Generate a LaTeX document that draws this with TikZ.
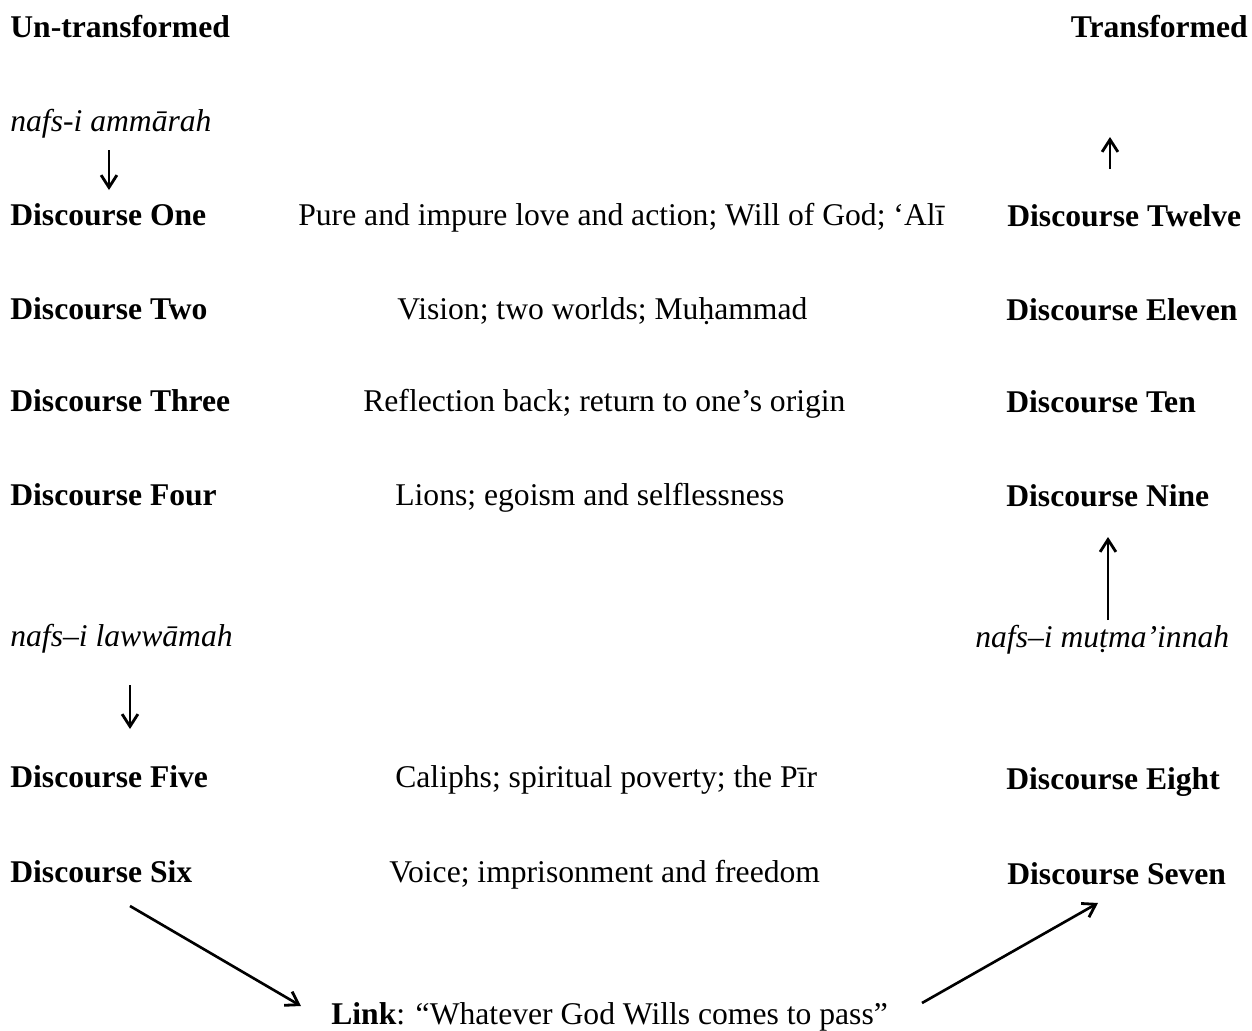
\documentclass[tikz,border=0pt]{standalone}
\usepackage{fontspec}
\setmainfont{Liberation Serif}
\usetikzlibrary{
  arrows.meta,
  positioning
}

\begin{document}
\begin{tikzpicture}[
  x=0.02cm, y=-0.02cm,
  every node/.style={font=\fontsize{18}{22}\selectfont, inner sep=0pt, anchor=base west},
  disc/.style={font=\fontsize{18}{22}\selectfont\bfseries},
  nafs/.style={font=\fontsize{18}{22}\selectfont\itshape},
  arr/.style={-{Straight Barb[length=7pt,width=9pt,line width=1.6pt]}, line width=1.5pt}
]
  \useasboundingbox (0,0) rectangle (1252,1031);

  % headings
  \node[disc] (untr) at (10,37) {Un-transformed};
  \node[disc, anchor=base east] (trans) at (1248,37) {Transformed};

  % stations of the soul
  \node[nafs] (ammarah) at (10,131) {nafs-i ammārah};
  \node[nafs] (lawwamah) at (10,646) {nafs–i lawwāmah};
  \node[nafs] (mutmainnah) at (975,647) {nafs–i muṭma’innah};

  % left column
  \node[disc] (d1) at (10,225) {Discourse One};
  \node[disc] (d2) at (10,319) {Discourse Two};
  \node[disc] (d3) at (10,411) {Discourse Three};
  \node[disc] (d4) at (10,505) {Discourse Four};
  \node[disc] (d5) at (10,787) {Discourse Five};
  \node[disc] (d6) at (10,882) {Discourse Six};

  % themes
  \node (t1) at (298,225) {Pure and impure love and action; Will of God; ‘Alī};
  \node (t2) at (397,319) {Vision; two worlds; Muḥammad};
  \node (t3) at (363,411) {Reflection back; return to one’s origin};
  \node (t4) at (395,505) {Lions; egoism and selflessness};
  \node (t5) at (395,787) {Caliphs; spiritual poverty; the Pīr};
  \node (t6) at (389,882) {Voice; imprisonment and freedom};

  % right column
  \node[disc] (d12) at (1007,226) {Discourse Twelve};
  \node[disc] (d11) at (1006,320) {Discourse Eleven};
  \node[disc] (d10) at (1006,412) {Discourse Ten};
  \node[disc] (d9) at (1006,506) {Discourse Nine};
  \node[disc] (d8) at (1006,789) {Discourse Eight};
  \node[disc] (d7) at (1007,884) {Discourse Seven};

  % link
  \node (link) at (331,1024) {\textbf{Link}: “Whatever God Wills comes to pass”};

  % arrow ends
  \coordinate (a1s) at (109,150);
  \coordinate (a1e) at (109,190);
  \coordinate (a2s) at (1110,169);
  \coordinate (a2e) at (1110,137);
  \coordinate (a3s) at (130,685);
  \coordinate (a3e) at (130,729);
  \coordinate (a4s) at (1108,620);
  \coordinate (a4e) at (1108,537);
  \coordinate (a5s) at (130,906);
  \coordinate (a5e) at (301,1006);
  \coordinate (a6s) at (922,1003);
  \coordinate (a6e) at (1098,903);

  % arrows
  \draw[arr] (a1s) -- (a1e);
  \draw[arr] (a2s) -- (a2e);
  \draw[arr] (a3s) -- (a3e);
  \draw[arr] (a4s) -- (a4e);
  \draw[arr] (a5s) -- (a5e);
  \draw[arr] (a6s) -- (a6e);
\end{tikzpicture}
\end{document}
